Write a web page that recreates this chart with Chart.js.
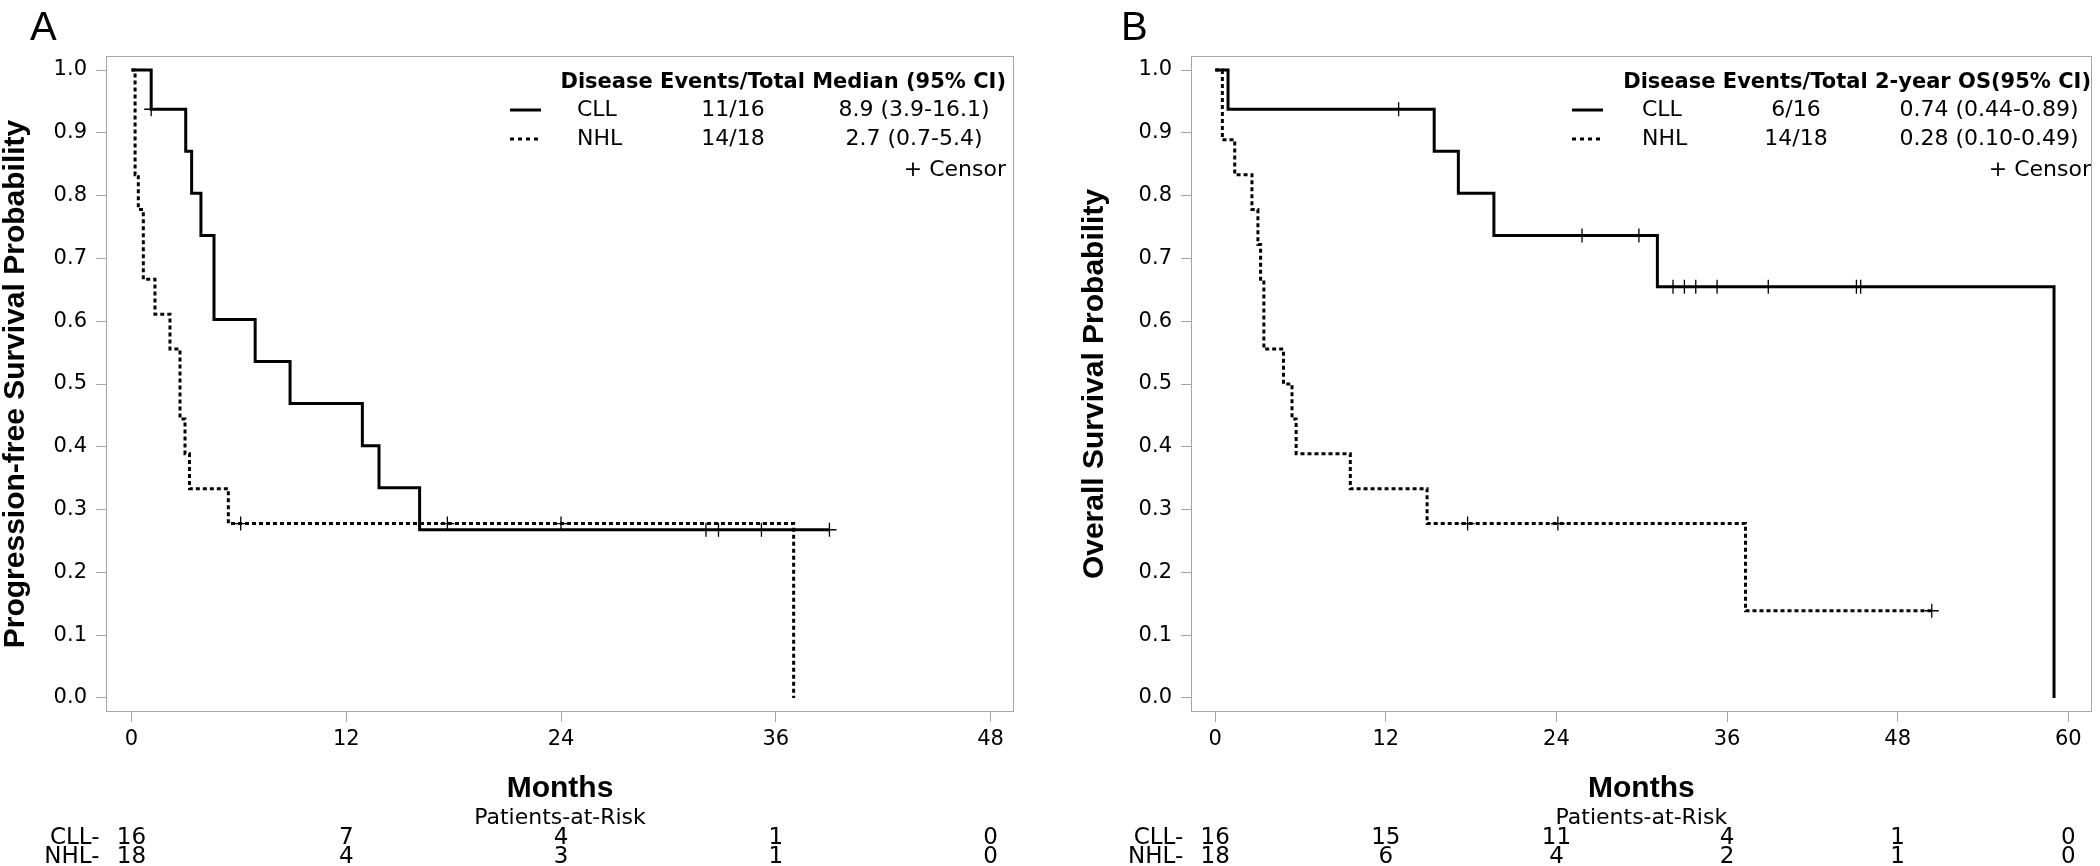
<!DOCTYPE html>
<html><head><meta charset="utf-8">
<script src="https://cdn.jsdelivr.net/npm/chart.js@4.4.0/dist/chart.umd.min.js"></script>
<style>
html,body{margin:0;padding:0;background:#fff;width:2100px;height:866px;overflow:hidden}
.panel{position:absolute;top:0;width:1050px;height:866px}
#pa{left:0}#pb{left:1050px}
</style></head><body>
<div class="panel" id="pa"><canvas id="ca" width="1050" height="866"></canvas></div>
<div class="panel" id="pb"><canvas id="cb" width="1050" height="866"></canvas></div>
<script>
// ---------- shared ----------
const yTicks = [0.0, 0.1, 0.2, 0.3, 0.4, 0.5, 0.6, 0.7, 0.8, 0.9, 1.0];

// ---------- Panel A : progression-free survival ----------
const xTicksA = [0, 12, 24, 36, 48];
const pfsCllTime = [0, 1.1, 3.03, 3.36, 3.88, 4.61, 6.91, 8.86, 12.9, 13.83, 16.1, 39.0];
const pfsCllSurv = [1.0, 0.9375, 0.8705, 0.8036, 0.7366, 0.6027, 0.5357, 0.4688, 0.4018, 0.3348, 0.2679, 0.2679];
const pfsCllCensorTime = [1.1, 32.1, 32.8, 35.2, 39.0];
const pfsCllCensorSurv = [0.9375, 0.2679, 0.2679, 0.2679, 0.2679];
const pfsNhlTime = [0, 0.2, 0.38, 0.66, 1.31, 2.15, 2.71, 2.99, 3.24, 5.41, 37.0];
const pfsNhlSurv = [1.0, 0.8333, 0.7778, 0.6667, 0.6111, 0.5556, 0.4444, 0.3889, 0.3333, 0.2778, 0.0];
const pfsNhlCensorTime = [6.1, 17.65, 24.0];
const pfsNhlCensorSurv = [0.2778, 0.2778, 0.2778];
const riskA_CLL = [16, 7, 4, 1, 0];
const riskA_NHL = [18, 4, 3, 1, 0];
const legendHeaderA = 'Disease Events/Total Median (95% CI)';
const legendRowsA = [['CLL', '11/16', '8.9 (3.9-16.1)'], ['NHL', '14/18', '2.7 (0.7-5.4)']];

// ---------- Panel B : overall survival ----------
const xTicksB = [0, 12, 24, 36, 48, 60];
const osCllTime = [0, 0.9, 15.4, 17.1, 19.6, 31.1, 59.0];
const osCllSurv = [1.0, 0.9375, 0.8705, 0.8036, 0.7366, 0.6548, 0.0];
const osCllCensorTime = [12.9, 25.8, 29.8, 32.2, 33.0, 33.8, 35.3, 38.9, 45.1, 45.4];
const osCllCensorSurv = [0.9375, 0.7366, 0.7366, 0.6548, 0.6548, 0.6548, 0.6548, 0.6548, 0.6548, 0.6548];
const osNhlTime = [0, 0.5, 1.37, 2.58, 3.0, 3.19, 3.42, 4.8, 5.4, 5.69, 9.5, 14.9, 37.3, 50.4];
const osNhlSurv = [1.0, 0.8889, 0.8333, 0.7778, 0.7222, 0.6667, 0.5556, 0.5, 0.4444, 0.3889, 0.3333, 0.2778, 0.1389, 0.1389];
const osNhlCensorTime = [17.75, 24.1, 50.4];
const osNhlCensorSurv = [0.2778, 0.2778, 0.1389];
const riskB_CLL = [16, 15, 11, 4, 1, 0];
const riskB_NHL = [18, 6, 4, 2, 1, 0];
const legendHeaderB = 'Disease Events/Total 2-year OS(95% CI)';
const legendRowsB = [['CLL', '6/16', '0.74 (0.44-0.89)'], ['NHL', '14/18', '0.28 (0.10-0.49)']];

// ---------- helpers ----------
function pts(t, s) { return t.map((v, i) => ({ x: v, y: s[i] })); }
const GRAY = '#a6a6a6';
const TXT = '#000';
const REG = '"DejaVu Sans", Verdana, sans-serif';
const TITLEF = '"Liberation Sans", Arial, sans-serif';

const framePlugin = {
  id: 'frame',
  beforeDatasetsDraw(chart) {
    const { ctx, chartArea: a } = chart;
    ctx.save();
    ctx.strokeStyle = GRAY; ctx.lineWidth = 1;
    ctx.strokeRect(Math.round(a.left) + 0.5, Math.round(a.top) + 0.5, Math.round(a.right - a.left) - 1, Math.round(a.bottom - a.top) - 1);
    ctx.restore();
  }
};

function annotPlugin(P) {
  return {
    id: 'annot',
    afterDraw(chart) {
      const ctx = chart.ctx, xs = chart.scales.x, a = chart.chartArea;
      ctx.save();
      // panel letter
      ctx.fillStyle = TXT;
      ctx.font = '40px ' + TITLEF;
      ctx.textAlign = 'left'; ctx.textBaseline = 'alphabetic';
      ctx.fillText(P.letter, P.letterX, 40);
      // legend table
      ctx.textBaseline = 'middle';
      ctx.font = 'bold 21px ' + REG;
      ctx.textAlign = 'right';
      ctx.fillText(P.header, P.legRight, 83);
      ctx.font = '22px ' + REG;
      const rowsY = [110, 139];
      P.rows.forEach((r, i) => {
        const y = rowsY[i];
        ctx.textAlign = 'left'; ctx.fillText(r[0], P.col1, y);
        ctx.textAlign = 'center'; ctx.fillText(r[1], P.col2, y);
        ctx.fillText(r[2], P.col3, y);
        ctx.beginPath();
        ctx.strokeStyle = '#000'; ctx.lineWidth = 3;
        ctx.setLineDash(i === 0 ? [] : [4, 4]);
        ctx.moveTo(P.sample[0], y); ctx.lineTo(P.sample[1], y); ctx.stroke();
        ctx.setLineDash([]);
      });
      ctx.textAlign = 'right';
      ctx.fillText('+ Censor', P.legRight, 170);
      // risk table
      ctx.font = '22px ' + REG;
      ctx.textAlign = 'center';
      ctx.fillText('Patients-at-Risk', (a.left + a.right) / 2, 818);
      ctx.font = '23px ' + REG;
      const x0 = xs.getPixelForValue(P.xTicks[0]);
      ctx.textAlign = 'right';
      ctx.fillText('CLL-', x0 - 32, 838);
      ctx.fillText('NHL-', x0 - 32, 857);
      ctx.textAlign = 'center';
      P.xTicks.forEach((t, i) => {
        const px = xs.getPixelForValue(t);
        ctx.fillText(String(P.riskCll[i]), px, 838);
        ctx.fillText(String(P.riskNhl[i]), px, 857);
      });
      ctx.restore();
    }
  };
}

function build(id, P) {
  const tickGrid = { display: true, drawOnChartArea: false, drawTicks: true, tickLength: 10, tickColor: GRAY, tickWidth: 1, color: GRAY };
  return new Chart(document.getElementById(id), {
    type: 'scatter',
    data: {
      datasets: [
        { label: 'CLL', data: pts(P.cllT, P.cllS), showLine: true, stepped: 'before', borderColor: '#000', borderWidth: 3, pointRadius: 0, fill: false },
        { label: 'NHL', data: pts(P.nhlT, P.nhlS), showLine: true, stepped: 'before', borderColor: '#000', borderWidth: 3, borderDash: [4, 3], pointRadius: 0, fill: false },
        { label: 'CLL censored', data: pts(P.cllCT, P.cllCS), showLine: false, pointStyle: 'cross', pointRadius: 7, pointBorderColor: '#000', pointBorderWidth: 1.3 },
        { label: 'NHL censored', data: pts(P.nhlCT, P.nhlCS), showLine: false, pointStyle: 'cross', pointRadius: 7, pointBorderColor: '#000', pointBorderWidth: 1.3 }
      ]
    },
    options: {
      responsive: false, animation: false, events: [],
      layout: { padding: { left: 0, top: 56, right: P.padRight, bottom: 0 } },
      plugins: { legend: { display: false }, tooltip: { enabled: false } },
      scales: {
        x: {
          type: 'linear', min: P.xMin, max: P.xMax,
          afterBuildTicks: s => { s.ticks = P.xTicks.map(v => ({ value: v })); },
          afterFit: s => { s.height = 154; },
          grid: tickGrid, border: { display: false },
          ticks: { font: { family: REG, size: 21 }, color: TXT, padding: 5, maxRotation: 0, autoSkip: false, callback: v => String(v) },
          title: { display: true, text: 'Months', color: TXT, font: { family: TITLEF, size: 30, weight: 'bold', lineHeight: 1 }, padding: { top: 0, bottom: 62 } }
        },
        y: {
          type: 'linear', min: -0.0223, max: 1.0223,
          afterBuildTicks: s => { s.ticks = yTicks.map(v => ({ value: v })); },
          afterFit: s => { s.width = P.frameLeft; },
          grid: tickGrid, border: { display: false },
          ticks: { font: { family: REG, size: 21 }, color: TXT, padding: 9, callback: v => Number(v).toFixed(1) },
          title: { display: true, text: P.yTitle, color: TXT, font: { family: TITLEF, size: 30, weight: 'bold', lineHeight: 1 }, padding: { top: P.yTitlePad, bottom: 0 } }
        }
      }
    },
    plugins: [framePlugin, annotPlugin(P)]
  });
}

build('ca', {
  letter: 'A', letterX: 30,
  cllT: pfsCllTime, cllS: pfsCllSurv, cllCT: pfsCllCensorTime, cllCS: pfsCllCensorSurv,
  nhlT: pfsNhlTime, nhlS: pfsNhlSurv, nhlCT: pfsNhlCensorTime, nhlCS: pfsNhlCensorSurv,
  xTicks: xTicksA, xMin: -1.425, xMax: 49.313, frameLeft: 106, padRight: 36,
  yTitle: 'Progression-free Survival Probability', yTitlePad: 1,
  header: legendHeaderA, rows: legendRowsA, legRight: 1006, col1: 577, col2: 733, col3: 914, sample: [510, 541],
  riskCll: riskA_CLL, riskNhl: riskA_NHL
});
build('cb', {
  letter: 'B', letterX: 71,
  cllT: osCllTime, cllS: osCllSurv, cllCT: osCllCensorTime, cllCS: osCllCensorSurv,
  nhlT: osNhlTime, nhlS: osNhlSurv, nhlCT: osNhlCensorTime, nhlCS: osNhlCensorSurv,
  xTicks: xTicksB, xMin: -1.706, xMax: 61.65, frameLeft: 141, padRight: 3,
  yTitle: 'Overall Survival Probability', yTitlePad: 30,
  header: legendHeaderB, rows: legendRowsB, legRight: 1041, col1: 592, col2: 746, col3: 939, sample: [522, 553],
  riskCll: riskB_CLL, riskNhl: riskB_NHL
});
</script>
</body></html>
